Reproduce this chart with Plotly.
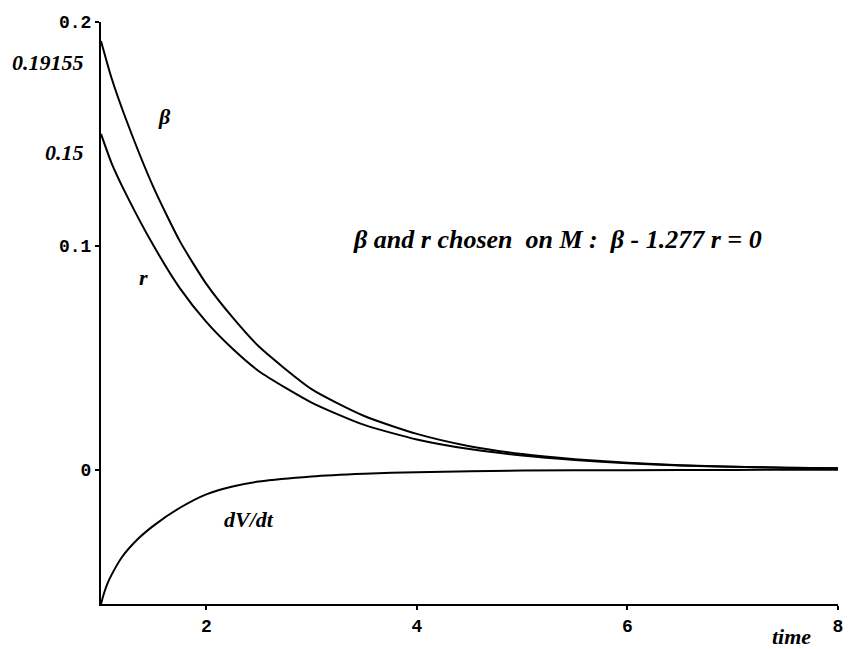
import plotly.graph_objects as go

# ---- data ----
t_vals = [1.0, 1.1, 1.25, 1.5, 1.75, 2.0, 2.25, 2.5, 3.0, 3.5, 4.0, 4.5, 5.0, 5.5, 6.0, 6.5, 7.0, 7.5, 8.0]
beta_vals = [0.19155, 0.175, 0.155, 0.126, 0.102, 0.083, 0.068, 0.055, 0.036, 0.024, 0.016, 0.0105,
             0.0070, 0.0047, 0.0031, 0.0020, 0.0013, 0.0009, 0.0006]
r_vals = [0.15, 0.137, 0.122, 0.100, 0.081, 0.066, 0.054, 0.044, 0.030, 0.020, 0.0135, 0.0092,
          0.0063, 0.0043, 0.0029, 0.0019, 0.0013, 0.0009, 0.0006]
dv_t = [1.0, 1.03, 1.06, 1.1, 1.2, 1.35, 1.5, 1.75, 2.0, 2.25, 2.5, 3.0, 3.5, 4.0, 5.0, 6.0, 7.0, 8.0]
dv_vals = [-0.060, -0.055, -0.051, -0.047, -0.039, -0.031, -0.025, -0.017, -0.011, -0.0075, -0.0053,
           -0.0030, -0.0018, -0.0011, -0.0004, -0.0002, -0.0001, 0.0]

x_ticks = [2, 4, 6, 8]
x_ticktext = ["2", "4", "6", "8"]
y_ticks = [0, 0.1, 0.2]
y_ticktext = ["0", "0.1", "0.2"]

fig = go.Figure()
line = dict(color="black", width=2, shape="spline", smoothing=0.6)
for xs, ys, name in [(t_vals, beta_vals, "beta"), (t_vals, r_vals, "r"), (dv_t, dv_vals, "dV/dt")]:
    fig.add_trace(go.Scatter(x=xs, y=ys, mode="lines", line=line, name=name, showlegend=False))

serif = "Liberation Serif"
def ann(x, y, text, size=22, xanchor="center", xref="x", yref="y"):
    fig.add_annotation(x=x, y=y, xref=xref, yref=yref, text="<b><i>" + text + "</i></b>",
                       showarrow=False, xanchor=xanchor, yanchor="middle",
                       font=dict(family=serif, size=size, color="black"))

ann(1.6, 0.158, "β")
ann(1.40, 0.086, "r")
ann(2.41, -0.0223, "dV/dt")
ann(3.37, 0.103, "β and r chosen  on M :  β - 1.277 r = 0", size=26, xanchor="left")
ann(-0.021, 0.182, "0.19155", xanchor="right", xref="paper")
ann(-0.021, 0.1415, "0.15", xanchor="right", xref="paper")
ann(7.56, -0.055, "time", yref="paper")

tickfont = dict(family="Liberation Mono", size=18, color="black", weight="bold")
fig.update_xaxes(range=[1, 8], showgrid=False, zeroline=False, showline=True, linecolor="black",
                 linewidth=2, ticks="outside", ticklen=4, tickwidth=1.5, tickcolor="black",
                 tickvals=x_ticks, ticktext=x_ticktext, tickfont=tickfont)
fig.update_yaxes(range=[-0.06, 0.2], showgrid=False, zeroline=False, showline=True, linecolor="black",
                 linewidth=2, ticks="outside", ticklen=4, tickwidth=1.5, tickcolor="black",
                 tickvals=y_ticks, ticktext=y_ticktext, tickfont=tickfont)
fig.update_layout(width=849, height=649, margin=dict(l=101, r=6, t=22, b=45),
                  plot_bgcolor="white", paper_bgcolor="white")
fig.write_html("out.html")
